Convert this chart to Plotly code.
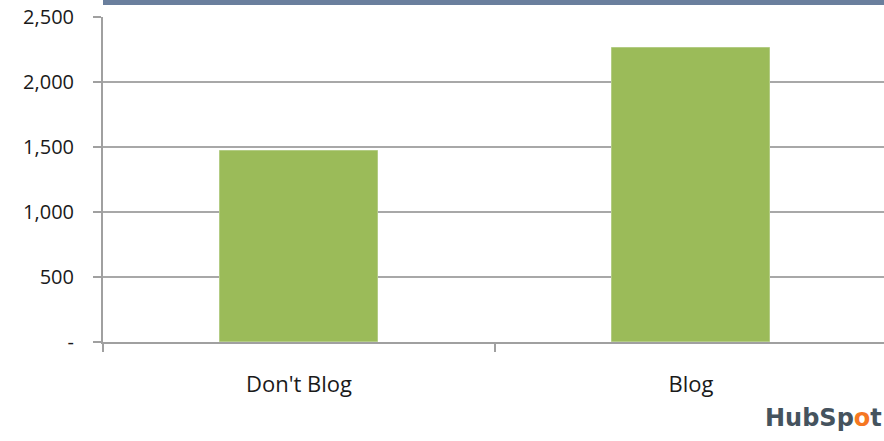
import plotly.graph_objects as go

categories = ["Don't Blog", "Blog"]
values = [1466, 2263]
y_tickvals = [0, 500, 1000, 1500, 2000, 2500]
y_ticktext = ["-", "500", "1,000", "1,500", "2,000", "2,500"]

W, H = 884, 441
ML, MT, MB = 103, 17, 99
plot_h = H - MT - MB

fig = go.Figure()
fig.add_trace(go.Bar(
    x=categories, y=values, width=0.403,
    marker=dict(color="#9bbb59", line=dict(color="#b3cc84", width=1)),
))

fig.update_layout(
    width=W, height=H,
    margin=dict(l=ML, r=0, t=MT, b=MB, pad=0, autoexpand=False),
    paper_bgcolor="white", plot_bgcolor="white",
    showlegend=False,
    font=dict(family="Open Sans", size=21, color="#1a1a1a"),
    bargap=0,
)
fig.update_xaxes(
    type="category", range=[-0.5, 1.4923], automargin=False,
    showline=True, linecolor="#a0a0a0", linewidth=2,
    ticks="outside", tickson="boundaries", ticklen=8, tickcolor="#a0a0a0", tickwidth=2,
    showgrid=False, ticklabelstandoff=22, tickfont=dict(size=22),
)
fig.update_yaxes(
    range=[0, 2500], tickvals=y_tickvals, ticktext=y_ticktext, automargin=False,
    showgrid=True, gridcolor="#a8a8a8", gridwidth=2,
    showline=True, linecolor="#a0a0a0", linewidth=2,
    ticks="outside", ticklen=8, tickcolor="#a0a0a0", tickwidth=2,
    ticklabelstandoff=15, zeroline=False, tickfont=dict(size=20),
)

# top band
fig.add_shape(type="rect", xref="paper", yref="paper",
              x0=0, x1=1.0, y0=1 + (MT - 5) / plot_h, y1=1 + (MT + 1) / plot_h,
              fillcolor="#6a7f9d", line_width=0, layer="above")

fig.add_annotation(
    xref="paper", yref="paper", x=1.0, y=-(434 - MT - plot_h) / plot_h,
    xanchor="right", yanchor="bottom", showarrow=False,
    text="<b>HubSp<span style='color:#f57722'>o</span>t</b>",
    font=dict(family="DejaVu Sans", size=24, color="#45535e"),
)

fig.write_html(
    "out.html",
    config={"displayModeBar": False},
    post_script="document.body.style.margin='0';document.body.style.overflow='hidden';",
)
